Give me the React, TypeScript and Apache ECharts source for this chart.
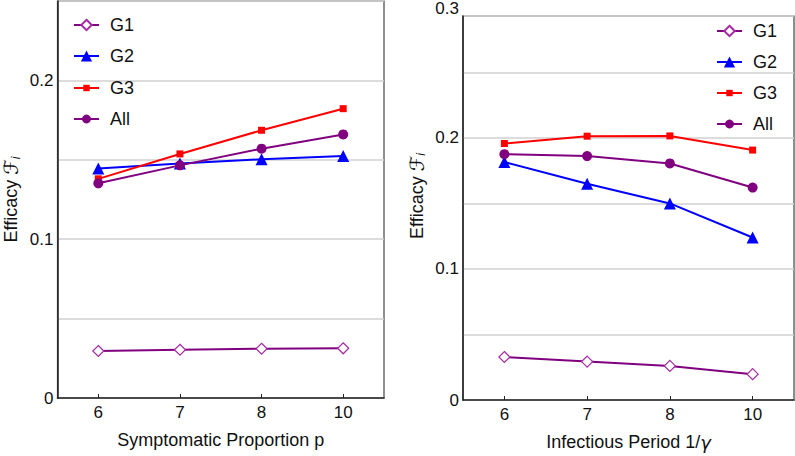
import React, { useEffect, useRef } from "react";
import * as echarts from "echarts";

const categories = ["6", "7", "8", "10"];
const seriesNames = ["G1", "G2", "G3", "All"];

const leftG1 = [0.0296, 0.0304, 0.031, 0.0313];
const leftG2 = [0.1445, 0.1476, 0.1503, 0.1524];
const leftG3 = [0.138, 0.1537, 0.1686, 0.1822];
const leftAll = [0.1352, 0.1465, 0.157, 0.166];

const rightG1 = [0.0328, 0.0293, 0.026, 0.0197];
const rightG2 = [0.1816, 0.165, 0.15, 0.124];
const rightG3 = [0.1957, 0.2013, 0.2015, 0.1907];
const rightAll = [0.1876, 0.1861, 0.1805, 0.1621];

const leftXName = "Symptomatic Proportion p";
const rightXName = "Infectious Period 1/{g|γ}";
const yName = "Efficacy {f|ℱ}{s|i}";

const FONT = "Liberation Sans";

const styles: Record<string, any> = {
  G1: {
    symbol: "diamond",
    symbolSize: 11,
    itemStyle: { color: "#ffffff", borderColor: "#a52aa5", borderWidth: 1.2 },
    lineStyle: { color: "#800080", width: 2 },
  },
  G2: {
    symbol: "triangle",
    symbolSize: 12,
    itemStyle: { color: "#0000ff" },
    lineStyle: { color: "#0000ff", width: 2 },
  },
  G3: {
    symbol: "rect",
    symbolSize: 7,
    itemStyle: { color: "#ff0000" },
    lineStyle: { color: "#ff0000", width: 2 },
  },
  All: {
    symbol: "circle",
    symbolSize: 10,
    itemStyle: { color: "#800080" },
    lineStyle: { color: "#800080", width: 2 },
  },
};

// legend icon heights (symbol in legend = 0.8 * itemHeight)
const legendIconHeight: Record<string, number> = { G1: 13, G2: 14, G3: 8, All: 11 };

function yLabel(v: number) {
  const t = Math.round(v * 10);
  if (Math.abs(v * 10 - t) > 1e-6) return "";
  return t === 0 ? "0" : "0." + t;
}

export default function App() {
  const ref = useRef<HTMLDivElement>(null);
  useEffect(() => {
    if (!ref.current) return;
    const chart = echarts.init(ref.current, undefined, { renderer: "svg" });
    const nameRich = {
      f: { fontFamily: "DejaVu Sans", fontStyle: "italic", fontSize: 20, color: "#111" },
      s: { fontFamily: FONT, fontStyle: "italic", fontSize: 12, color: "#111", verticalAlign: "bottom", padding: [9, 0, 0, 0] },
      g: { fontFamily: "DejaVu Sans", fontStyle: "italic", fontSize: 18, color: "#111" },
    };
    const xAxisBase = (gridIndex: number, name: string) => ({
      type: "category",
      gridIndex,
      data: categories,
      boundaryGap: true,
      name,
      nameLocation: "middle",
      nameGap: 33,
      nameTextStyle: { fontFamily: FONT, fontSize: 18, color: "#111", rich: nameRich },
      axisLine: { lineStyle: { color: "#222", width: 1.5 } },
      axisTick: { show: true, inside: true, alignWithLabel: true, length: 4, lineStyle: { color: "#222" } },
      axisLabel: { fontFamily: FONT, fontSize: 17, color: "#111", margin: 6 },
      splitLine: { show: false },
    });
    const yAxisBase = (gridIndex: number, max: number, shift: number) => ({
      type: "value",
      gridIndex,
      min: 0,
      max,
      interval: 0.05,
      name: yName,
      nameLocation: "middle",
      nameGap: 36,
      nameTextStyle: { fontFamily: FONT, fontSize: 18, color: "#111", rich: nameRich, padding: [0, 0, 0, shift] },
      axisLine: { show: true, lineStyle: { color: "#222", width: 1.5 } },
      axisTick: { show: false },
      axisLabel: { fontFamily: FONT, fontSize: 17, color: "#111", margin: 4, formatter: yLabel },
      splitLine: { show: true, lineStyle: { color: "#d0d0d0", width: 1.5 } },
    });
    const makeSeries = (idx: number, data: number[][]) =>
      seriesNames.map((n, i) => ({
        type: "line",
        name: n,
        xAxisIndex: idx,
        yAxisIndex: idx,
        data: data[i],
        ...styles[n],
      }));
    const leftCenters = [25, 56, 88, 119];
    const rightCenters = [31, 62, 93, 124];
    const makeLegends = (left: number, centers: number[]) =>
      seriesNames.map((n, i) => ({
        orient: "vertical",
        left,
        top: centers[i] - 9,
        padding: 0,
        data: [n],
        itemWidth: 25,
        itemHeight: legendIconHeight[n],
        textStyle: { fontFamily: FONT, fontSize: 18, lineHeight: 18, color: "#111", padding: [0, 0, 0, 6] },
        selectedMode: false,
      }));
    chart.setOption({
      animation: false,
      backgroundColor: "#ffffff",
      grid: [
        { left: 53, top: 1, width: 331, height: 397, show: true, borderColor: "#444", borderWidth: 1.2, backgroundColor: "transparent" },
        { left: 463, top: 16, width: 331, height: 387, show: true, borderColor: "#444", borderWidth: 1.2, backgroundColor: "transparent" },
      ],
      legend: [...makeLegends(73, leftCenters), ...makeLegends(716, rightCenters)],
      xAxis: [xAxisBase(0, leftXName), xAxisBase(1, rightXName)],
      yAxis: [yAxisBase(0, 0.25, 0), yAxisBase(1, 0.293, 24)],
      graphic: [
        {
          type: "text",
          right: 336,
          top: 0,
          style: { text: "0.3", fontFamily: FONT, fontSize: 17, fill: "#111" },
        },
      ],
      series: [
        ...makeSeries(0, [leftG1, leftG2, leftG3, leftAll]),
        ...makeSeries(1, [rightG1, rightG2, rightG3, rightAll]),
      ],
    });
    return () => chart.dispose();
  }, []);
  return <div ref={ref} style={{ width: 795, height: 456, position: "absolute", left: 0, top: 0 }} />;
}
